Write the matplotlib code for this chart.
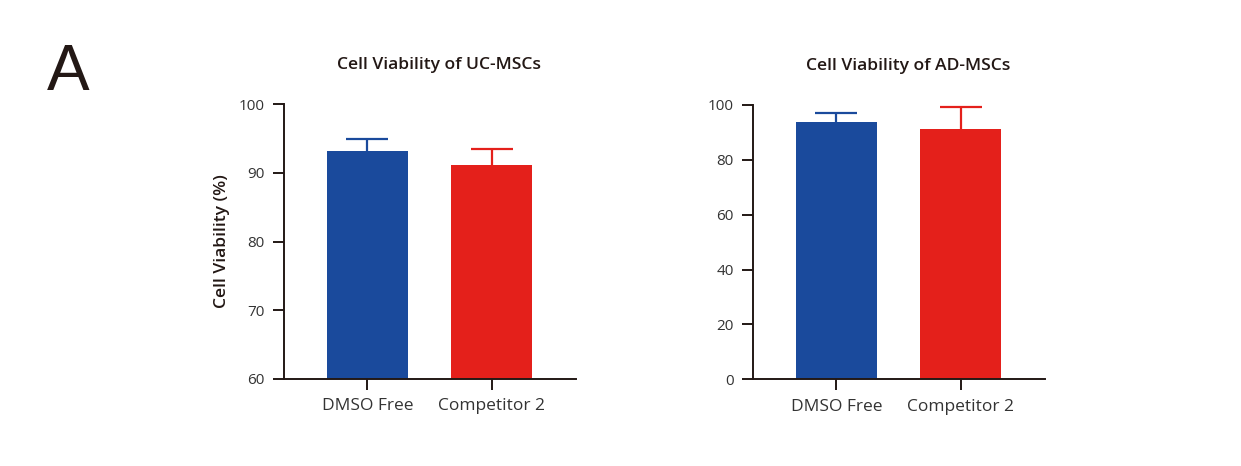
import matplotlib
matplotlib.use("Agg")
import matplotlib.pyplot as plt

plt.rcParams['font.family'] = ['Open Sans', 'DejaVu Sans']
plt.rcParams['font.stretch'] = 'normal'

categories = ["DMSO Free", "Competitor 2"]
uc_values = [93.1, 91.1]
uc_errors = [1.8, 2.3]
ad_values = [93.8, 91.2]
ad_errors = [3.3, 8.2]
uc_ticks = [60, 70, 80, 90, 100]
ad_ticks = [0, 20, 40, 60, 80, 100]
colors = ["#1A4A9C", "#E4201B"]
ink = "#231815"

fig = plt.figure(figsize=(12.41, 4.66), dpi=100)
ax1 = fig.add_axes([284/1241, 1-379/466, (576-284)/1241, (379-104)/466])
ax2 = fig.add_axes([753/1241, 1-379.3/466, (1045-753)/1241, (379.3-105)/466])

def draw(ax, vals, errs, ylim, ticks, title):
    x = list(range(len(categories)))
    ax.bar(x, vals, width=0.65, color=colors, zorder=2)
    for xi, v, e, c in zip(x, vals, errs, colors):
        _, caps, _ = ax.errorbar([xi], [v], yerr=[[0], [e]], fmt='none', ecolor=c,
                                 elinewidth=1.6, capsize=14.8, capthick=1.6, zorder=3)
        caps[0].set_visible(False)
    ax.set_xlim(-0.67, 1.68)
    ax.set_ylim(*ylim)
    ax.set_yticks(ticks)
    ax.set_xticks(x)
    ax.set_xticklabels(categories)
    for s in ['top', 'right']:
        ax.spines[s].set_visible(False)
    for s in ['left', 'bottom']:
        ax.spines[s].set_linewidth(1.4)
        ax.spines[s].set_color(ink)
    ax.tick_params(axis='both', length=8, width=1.4, color=ink,
                   labelsize=11, labelcolor='#333333')
    ax.tick_params(axis='y', pad=6)
    ax.tick_params(axis='x', pad=6, labelsize=12.5)
    ax.set_title(title, fontsize=12.6, fontweight='semibold', fontstretch='normal',
                 color=ink, pad=25, x=0.53)

draw(ax1, uc_values, uc_errors, (60, 100), uc_ticks, "Cell Viability of UC-MSCs")
draw(ax2, ad_values, ad_errors, (0, 100), ad_ticks, "Cell Viability of AD-MSCs")
ax1.set_ylabel("Cell Viability (%)", fontsize=12.6, fontweight='semibold', fontstretch='normal',
               color=ink, labelpad=6)

fig.text(47/1241, 1-90/466, "A", fontsize=46, color=ink,
         family=['Liberation Sans', 'DejaVu Sans'], ha='left', va='baseline')

fig.savefig("out.png", dpi=100, facecolor='white')
